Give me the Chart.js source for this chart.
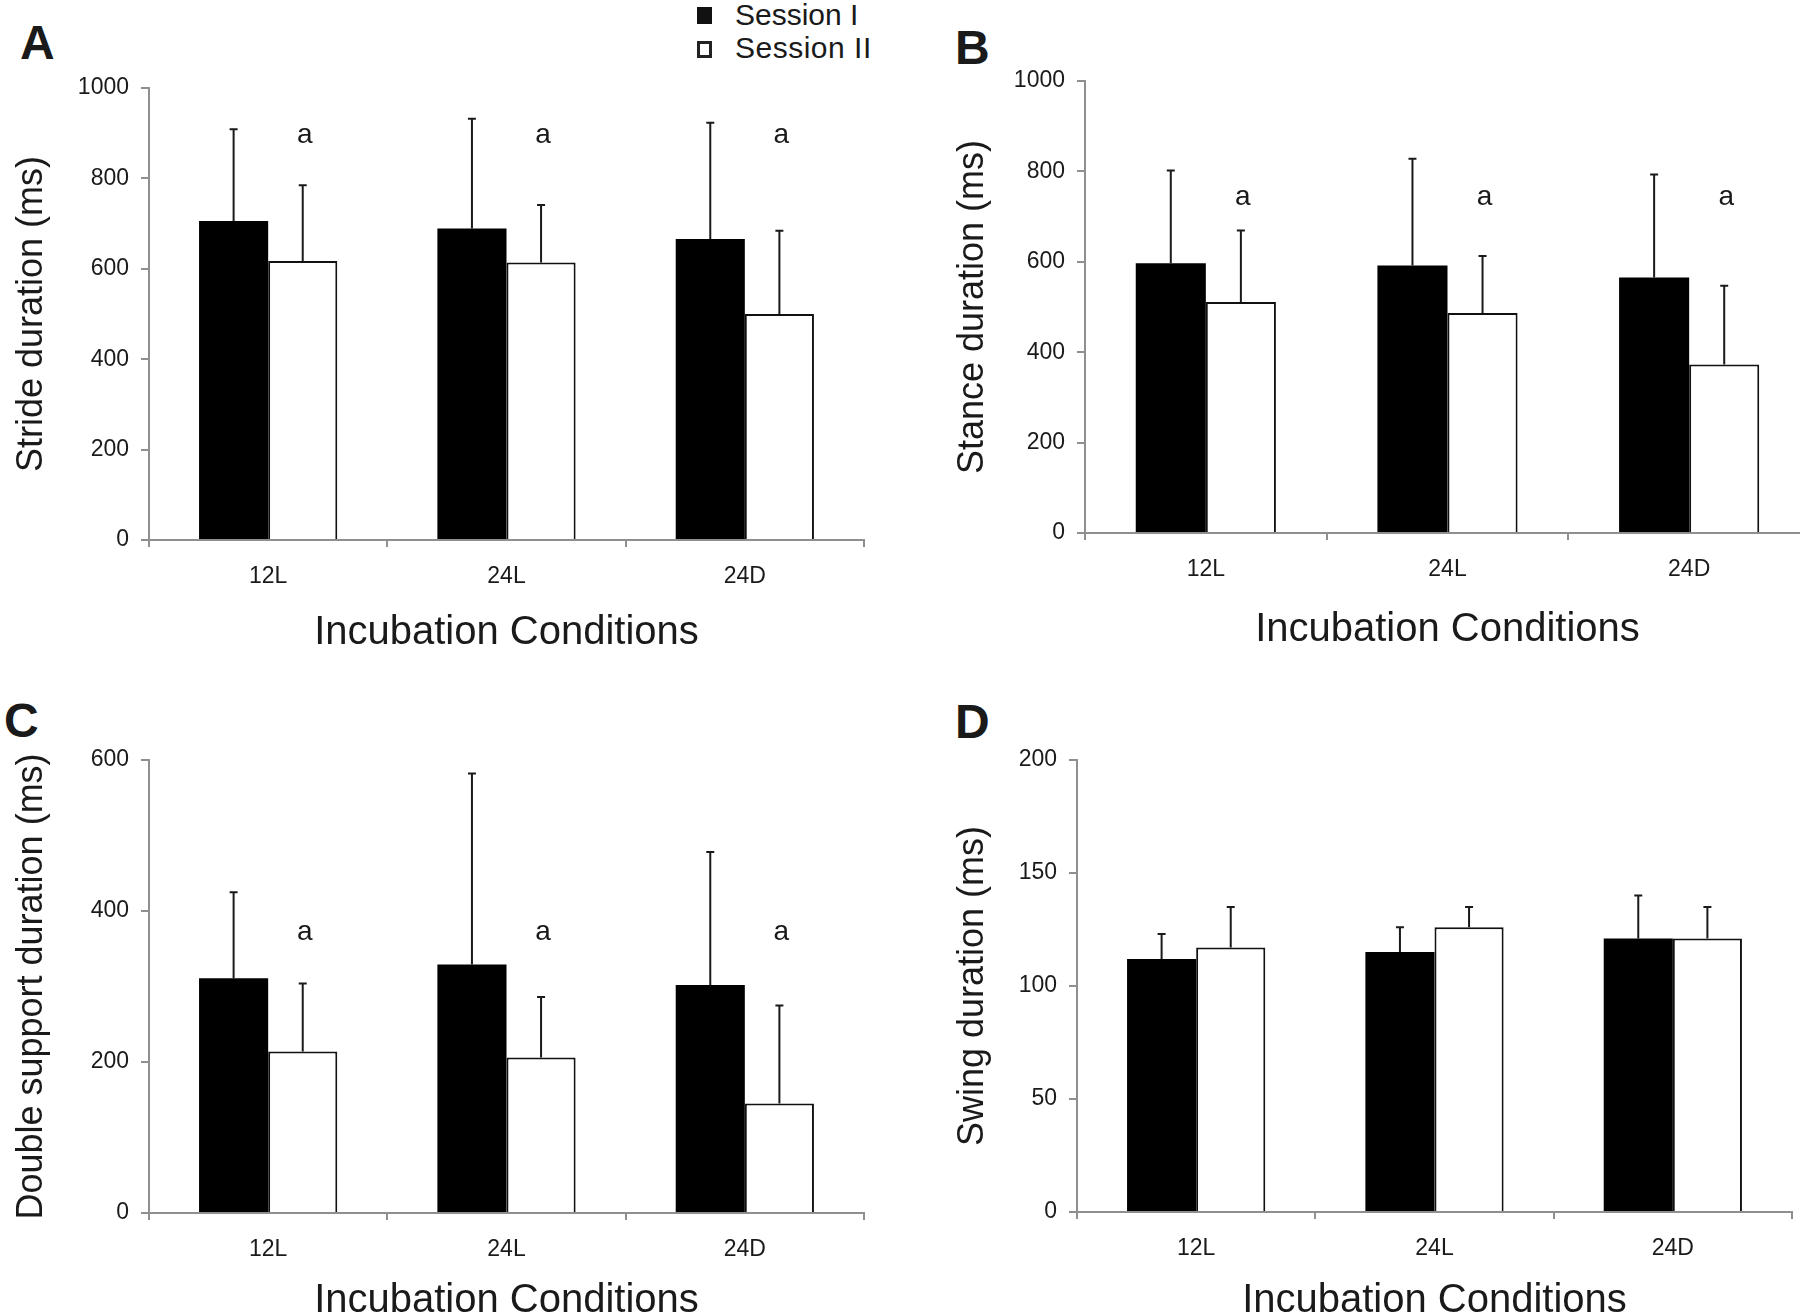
<!DOCTYPE html>
<html>
<head>
<meta charset="utf-8">
<title>Gait durations</title>
<script src="https://cdn.jsdelivr.net/npm/chart.js@4.4.0/dist/chart.umd.min.js"></script>
<style>
    html, body { margin: 0; padding: 0; background: #fff; }
    body {
        width: 1800px; height: 1315px; position: relative; overflow: hidden;
        font-family: "Liberation Sans", Arial, sans-serif; color: #1a1a1a;
    }
    .panel { position: absolute; }
    .letter { position: absolute; font-weight: bold; font-size: 48px; line-height: 48px; }
    .legend-box { position: absolute; width: 15px; height: 17px; box-sizing: border-box; }
    .legend-text { position: absolute; font-size: 30px; line-height: 34px; white-space: nowrap; }
</style>
</head>
<body>

<div class="letter" style="left:20px; top:19px;">A</div>
<div class="letter" style="left:955px; top:24px;">B</div>
<div class="letter" style="left:4px; top:697px;">C</div>
<div class="letter" style="left:955px; top:698px;">D</div>

<div class="legend-box" style="left:697px; top:7px; background:#111;"></div>
<div class="legend-text" style="left:735px; top:-2px;">Session I</div>
<div class="legend-box" style="left:697px; top:41px; border:3px solid #222; background:#fff;"></div>
<div class="legend-text" style="left:735px; top:31px; letter-spacing:0.5px;">Session II</div>

<div class="panel" style="left:0; top:0;"><canvas id="chartA" width="900" height="660"></canvas></div>
<div class="panel" style="left:900px; top:0;"><canvas id="chartB" width="910" height="660"></canvas></div>
<div class="panel" style="left:0; top:660px;"><canvas id="chartC" width="900" height="680"></canvas></div>
<div class="panel" style="left:900px; top:660px;"><canvas id="chartD" width="900" height="680"></canvas></div>

<script>
// data (means and upper SD, ms)
const conditions = ['12L', '24L', '24D'];
const seriesNames = ['Session I', 'Session II'];

const strideS1 = [706, 689, 666];
const strideS1Sd = [203, 243, 257];
const strideS2 = [617, 614, 500];
const strideS2Sd = [168, 127, 184];

const stanceS1 = [597, 592, 565];
const stanceS1Sd = [205, 236, 228];
const stanceS2 = [511, 487, 373];
const stanceS2Sd = [158, 126, 174];

const doubleS1 = [311, 329, 302];
const doubleS1Sd = [114, 253, 176];
const doubleS2 = [214, 206, 145];
const doubleS2Sd = [90, 80, 130];

const swingS1 = [112, 115, 121];
const swingS1Sd = [11, 11, 19];
const swingS2 = [117, 126, 121];
const swingS2Sd = [18, 9, 14];

// "a" marks above Session II bars (value where the letter sits)
const strideSig = ['a', 'a', 'a'];
const strideSigAt = [896, 896, 896];
const stanceSig = ['a', 'a', 'a'];
const stanceSigAt = [742, 742, 742];
const doubleSig = ['a', 'a', 'a'];
const doubleSigAt = [372, 372, 372];

const strideTicks = { max: 1000, step: 200 };
const stanceTicks = { max: 1000, step: 200 };
const doubleTicks = { max: 600, step: 200 };
const swingTicks = { max: 200, step: 50 };

const AXIS_GREY = '#8f8f8f';
const FONT = '"Liberation Sans", Arial, sans-serif';

const errorBarPlugin = {
    id: 'errorBars',
    afterDatasetsDraw(chart, args, opts) {
        const ctx = chart.ctx;
        const yScale = chart.scales.y;
        ctx.save();
        ctx.strokeStyle = '#1a1a1a';
        ctx.lineWidth = 2;
        chart.data.datasets.forEach((ds, i) => {
            const meta = chart.getDatasetMeta(i);
            meta.data.forEach((bar, j) => {
                const top = yScale.getPixelForValue(ds.data[j] + ds.errors[j]);
                ctx.beginPath();
                ctx.moveTo(bar.x, bar.y);
                ctx.lineTo(bar.x, top);
                ctx.moveTo(bar.x - 4, top);
                ctx.lineTo(bar.x + 4, top);
                ctx.stroke();
            });
        });
        // significance letters over Session II
        if (opts.labels) {
            const meta = chart.getDatasetMeta(1);
            ctx.fillStyle = '#1a1a1a';
            ctx.font = '28px ' + FONT;
            ctx.textAlign = 'center';
            ctx.textBaseline = 'middle';
            opts.labels.forEach((txt, j) => {
                ctx.fillText(txt, meta.data[j].x + 2, yScale.getPixelForValue(opts.levels[j]));
            });
        }
        ctx.restore();
    }
};

function makeChart(id, cfg) {
    const ctx = document.getElementById(id).getContext('2d');
    const titleOffset = 24; // half line height of the x title
    return new Chart(ctx, {
        type: 'bar',
        data: {
            labels: conditions,
            datasets: [{
                label: seriesNames[0],
                data: cfg.s1,
                errors: cfg.s1Sd,
                backgroundColor: '#000',
                borderColor: '#000',
                borderWidth: 0
            }, {
                label: seriesNames[1],
                data: cfg.s2,
                errors: cfg.s2Sd,
                backgroundColor: '#fff',
                borderColor: '#111',
                borderWidth: 2,
                borderSkipped: 'bottom'
            }]
        },
        options: {
            responsive: false,
            animation: false,
            devicePixelRatio: 1,
            categoryPercentage: 0.58,
            barPercentage: 1.0,
            layout: {
                padding: {
                    left: 0,
                    top: cfg.area.top,
                    right: cfg.w - cfg.area.right,
                    bottom: cfg.h - (cfg.area.titleY + titleOffset)
                }
            },
            plugins: {
                legend: { display: false },
                tooltip: { enabled: false },
                errorBars: { labels: cfg.sig, levels: cfg.sigAt }
            },
            scales: {
                x: {
                    grid: {
                        display: true,
                        drawOnChartArea: false,
                        drawTicks: true,
                        tickLength: 7,
                        color: AXIS_GREY,
                        lineWidth: 2,
                        offset: true
                    },
                    border: { display: true, color: AXIS_GREY, width: 2 },
                    ticks: { color: '#1a1a1a', font: { family: FONT, size: 23 }, padding: 16, maxRotation: 0 },
                    title: {
                        display: true,
                        text: 'Incubation Conditions',
                        color: '#1a1a1a',
                        font: { family: FONT, size: 40 },
                        padding: 0
                    },
                    afterFit: (axis) => { axis.height = cfg.area.titleY + titleOffset - cfg.area.bottom; }
                },
                y: {
                    min: 0,
                    max: cfg.ticks.max,
                    grid: {
                        display: true,
                        drawOnChartArea: false,
                        drawTicks: true,
                        tickLength: 8,
                        color: AXIS_GREY,
                        lineWidth: 2
                    },
                    border: { display: true, color: AXIS_GREY, width: 2 },
                    ticks: {
                        stepSize: cfg.ticks.step,
                        color: '#1a1a1a',
                        font: { family: FONT, size: 23 },
                        padding: 12,
                        callback: (value) => String(value)
                    },
                    title: {
                        display: true,
                        text: cfg.yTitle,
                        color: '#1a1a1a',
                        font: { family: FONT, size: 36 },
                        padding: { top: cfg.area.yTitleX - 21.6, bottom: 0 }
                    },
                    afterFit: (axis) => { axis.width = cfg.area.left; }
                }
            }
        },
        plugins: [errorBarPlugin]
    });
}

document.addEventListener('DOMContentLoaded', () => {
    makeChart('chartA', {
        w: 900, h: 660,
        area: { left: 149, right: 864, top: 88, bottom: 540, titleY: 633, yTitleX: 32 },
        s1: strideS1, s1Sd: strideS1Sd, s2: strideS2, s2Sd: strideS2Sd,
        sig: strideSig, sigAt: strideSigAt,
        ticks: strideTicks, yTitle: 'Stride duration (ms)'
    });
    makeChart('chartB', {
        w: 910, h: 660,
        area: { left: 185, right: 910, top: 81, bottom: 533, titleY: 630, yTitleX: 73 },
        s1: stanceS1, s1Sd: stanceS1Sd, s2: stanceS2, s2Sd: stanceS2Sd,
        sig: stanceSig, sigAt: stanceSigAt,
        ticks: stanceTicks, yTitle: 'Stance duration (ms)'
    });
    makeChart('chartC', {
        w: 900, h: 680,
        area: { left: 149, right: 864, top: 100, bottom: 553, titleY: 641, yTitleX: 32 },
        s1: doubleS1, s1Sd: doubleS1Sd, s2: doubleS2, s2Sd: doubleS2Sd,
        sig: doubleSig, sigAt: doubleSigAt,
        ticks: doubleTicks, yTitle: 'Double support duration (ms)'
    });
    makeChart('chartD', {
        w: 900, h: 680,
        area: { left: 177, right: 892, top: 100, bottom: 552, titleY: 641, yTitleX: 73 },
        s1: swingS1, s1Sd: swingS1Sd, s2: swingS2, s2Sd: swingS2Sd,
        sig: null, sigAt: null,
        ticks: swingTicks, yTitle: 'Swing duration (ms)'
    });
});
</script>
</body>
</html>
